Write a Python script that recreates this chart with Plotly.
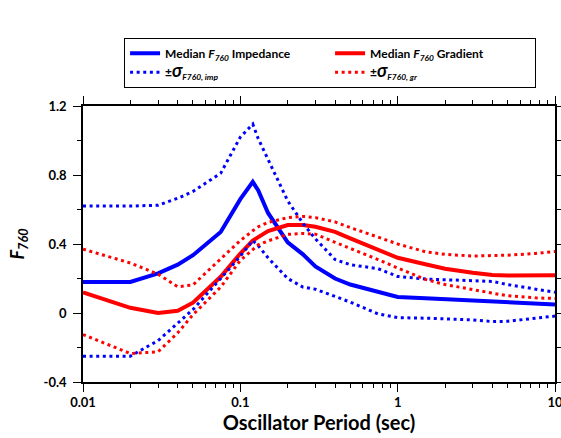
import plotly.graph_objects as go

PERIODS = [0.01, 0.02, 0.03, 0.04, 0.05, 0.075, 0.1, 0.12, 0.13, 0.15, 0.2, 0.25, 0.3,
           0.4, 0.5, 0.75, 1.0, 1.5, 2.0, 3.0, 4.0, 5.0, 7.5, 10.0]

IMP_MEDIAN = [0.18, 0.18, 0.23, 0.28, 0.335, 0.47, 0.66, 0.76, 0.71, 0.58, 0.41, 0.34, 0.27,
              0.20, 0.165, 0.123, 0.093, 0.085, 0.08, 0.072, 0.066, 0.062, 0.055, 0.05]
IMP_PLUS = [0.62, 0.62, 0.625, 0.665, 0.705, 0.81, 1.02, 1.095, 1.01, 0.89, 0.65, 0.52, 0.43,
            0.31, 0.28, 0.257, 0.212, 0.197, 0.192, 0.188, 0.183, 0.165, 0.14, 0.12]
IMP_MINUS = [-0.25, -0.25, -0.16, -0.06, 0.02, 0.20, 0.33, 0.42, 0.39, 0.32, 0.20, 0.15, 0.138,
             0.096, 0.063, -0.005, -0.027, -0.03, -0.033, -0.04, -0.05, -0.048, -0.03, -0.018]

GR_MEDIAN = [0.12, 0.03, 0.0, 0.013, 0.06, 0.21, 0.345, 0.42, 0.44, 0.475, 0.51, 0.51, 0.50,
             0.47, 0.433, 0.369, 0.32, 0.283, 0.257, 0.233, 0.22, 0.217, 0.215, 0.219]
GR_PLUS = [0.37, 0.29, 0.225, 0.152, 0.163, 0.31, 0.42, 0.477, 0.50, 0.525, 0.553, 0.56, 0.553,
           0.528, 0.495, 0.44, 0.40, 0.355, 0.34, 0.33, 0.332, 0.335, 0.345, 0.357]
GR_MINUS = [-0.125, -0.235, -0.225, -0.115, -0.01, 0.15, 0.305, 0.366, 0.395, 0.418, 0.456, 0.461, 0.457,
            0.41, 0.375, 0.31, 0.261, 0.195, 0.165, 0.134, 0.115, 0.10, 0.088, 0.084]

X_TICKS = [0.01, 0.1, 1, 10]
X_LABELS = ["0.01", "0.1", "1", "10"]
X_MINOR = [m * d for d in (0.01, 0.1, 1) for m in range(2, 10)]
Y_TICKS = [-0.4, 0, 0.4, 0.8, 1.2]
Y_LABELS = ["-0.4", "0", "0.4", "0.8", "1.2"]

BLUE = "#0000FF"
RED = "#FF0000"
FONT = "Lato"
DOT = "3px,3.6px"
SIG = "<span style='font-size:18px'><i>σ</i></span>"

fig = go.Figure()
fig.add_trace(go.Scatter(x=PERIODS, y=IMP_MEDIAN, mode="lines",
                         line=dict(color=BLUE, width=4),
                         name="<b>Median <i>F</i><sub><i>760</i></sub> Impedance</b>"))
fig.add_trace(go.Scatter(x=PERIODS, y=GR_MEDIAN, mode="lines",
                         line=dict(color=RED, width=4),
                         name="<b>Median <i>F</i><sub><i>760</i></sub> Gradient</b>"))
fig.add_trace(go.Scatter(x=PERIODS, y=IMP_PLUS, mode="lines",
                         line=dict(color=BLUE, width=3, dash=DOT),
                         name="<b>±" + SIG + "<sub><i>F760, imp</i></sub></b>"))
fig.add_trace(go.Scatter(x=PERIODS, y=IMP_MINUS, mode="lines",
                         line=dict(color=BLUE, width=3, dash=DOT),
                         showlegend=False))
fig.add_trace(go.Scatter(x=PERIODS, y=GR_PLUS, mode="lines",
                         line=dict(color=RED, width=3, dash=DOT),
                         name="<b>±" + SIG + "<sub><i>F760, gr</i></sub></b>"))
fig.add_trace(go.Scatter(x=PERIODS, y=GR_MINUS, mode="lines",
                         line=dict(color=RED, width=3, dash=DOT),
                         showlegend=False))

axis_common = dict(
    showline=True, linecolor="black", linewidth=1.5,
    mirror="ticks", ticks="outside", ticklen=8, tickwidth=1.2, tickcolor="black",
    showgrid=False, zeroline=False, automargin=False,
    tickfont=dict(family=FONT, size=13, color="black", weight="bold"),
)

fig.update_xaxes(
    type="log", range=[-2, 1],
    tickvals=X_TICKS, ticktext=X_LABELS, ticklabeloverflow="allow",
    minor=dict(tickvals=X_MINOR, ticks="outside", ticklen=4, tickcolor="black", tickwidth=1.2, showgrid=False),
    title=dict(text="<b>Oscillator Period (sec)</b>", font=dict(family=FONT, size=20, color="black"), standoff=4),
    **axis_common,
)
fig.update_yaxes(
    range=[-0.4, 1.2],
    tickvals=Y_TICKS, ticktext=Y_LABELS,
    minor=dict(dtick=0.2, tick0=-0.4, ticks="outside", ticklen=4, tickcolor="black", tickwidth=1.2, showgrid=False),
    title=dict(text="<b><i>F</i><sub><i>760</i></sub></b>", font=dict(family=FONT, size=18, color="black"), standoff=14),
    ticklabelstandoff=4,
    **axis_common,
)

fig.update_layout(
    width=561, height=438,
    margin=dict(l=83, r=6, t=106, b=56, autoexpand=False),
    plot_bgcolor="white", paper_bgcolor="white",
    font=dict(family=FONT, color="black"),
    legend=dict(
        orientation="h", x=0.087, y=1.247, xanchor="left", yanchor="top",
        entrywidth=160, entrywidthmode="pixels",
        bgcolor="white", bordercolor="black", borderwidth=1,
        font=dict(family=FONT, size=12, color="black"),
        tracegroupgap=0,
    ),
)

fig.write_html("out.html", config={"displayModeBar": False},
               post_script="document.body.style.margin='0px';")
